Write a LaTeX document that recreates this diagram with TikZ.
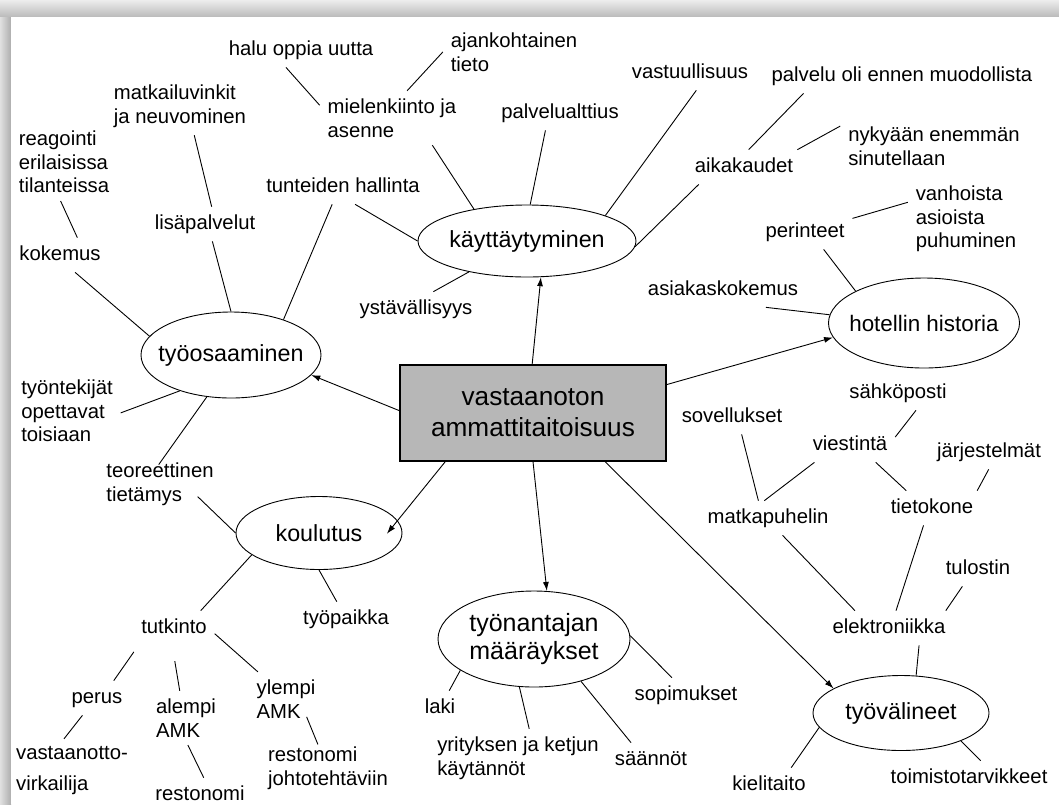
\documentclass[tikz,border=0pt]{standalone}
\usepackage{fontspec}
\setmainfont{Liberation Sans}
\usetikzlibrary{shapes.geometric,arrows.meta}
\definecolor{boxgray}{RGB}{183,183,183}
\begin{document}
\begin{tikzpicture}[x=1pt, y=-1pt, >={Latex[length=9pt,width=6pt]}, line width=0.9pt,
      lbl/.style={font=\fontsize{20.3}{23.5}\selectfont, inner sep=0pt, outer sep=8pt, text height=14.5pt, text depth=4.2pt},
      blk/.style={font=\fontsize{20.3}{23.5}\selectfont, align=left, inner sep=0pt, outer sep=8pt},
      ell/.style={draw, ellipse, inner sep=-30pt, align=center, font=\fontsize{23.3}{27}\selectfont}]
    \useasboundingbox (0,0) rectangle (1059,804);
    \fill[black!10] (0,0) rectangle (1059,804);
    \shade[top color=black!7, bottom color=black!27] (0,0) rectangle (1059,17);
    \shade[left color=black!12, right color=black!32] (0,17) rectangle (11,804);
    \fill[white] (11,17) rectangle (1059,804);
    \node[draw, fill=boxgray, line width=1.2pt, minimum width=266pt, minimum height=96pt, align=center, font=\fontsize{26.2}{31}\selectfont] (amm) at (533,413) {vastaanoton\\ammattitaitoisuus};
    \node[ell, minimum width=218pt, minimum height=72pt] (kay) at (527,241) {käyttäytyminen};
    \node[ell, minimum width=180pt, minimum height=86pt] (tyo) at (231,355) {työosaaminen};
    \node[ell, minimum width=191pt, minimum height=90pt, font=\fontsize{22.4}{27}\selectfont] (hot) at (924,323) {hotellin historia};
    \node[ell, minimum width=166pt, minimum height=73pt] (kou) at (319,533) {koulutus};
    \node[ell, minimum width=192pt, minimum height=96pt, font=\fontsize{25}{28}\selectfont] (tna) at (534,639) {työnantajan\\määräykset};
    \node[ell, minimum width=176pt, minimum height=75pt] (tyv) at (901,713) {työvälineet};
    \node[lbl] (halu) at (301,50) {halu oppia uutta};
    \node[blk] (ajan) at (514,52) {ajankohtainen\\tieto};
    \node[blk] (miel) at (392,118) {mielenkiinto ja\\asenne};
    \node[blk] (matk) at (180,106) {matkailuvinkit\\ja neuvominen};
    \node[blk] (reag) at (64,162) {reagointi\\erilaisissa\\tilanteissa};
    \node[lbl] (koke) at (60,255) {kokemus};
    \node[lbl] (lisa) at (205,224) {lisäpalvelut};
    \node[lbl] (tunt) at (343,187) {tunteiden hallinta};
    \node[lbl] (palv) at (560,113) {palvelualttius};
    \node[lbl] (vast) at (690,73) {vastuullisuus};
    \node[lbl] (palo) at (902,76) {palvelu oli ennen muodollista};
    \node[lbl] (aika) at (744,167) {aikakaudet};
    \node[blk] (nyky) at (934,146) {nykyään enemmän\\sinutellaan};
    \node[lbl] (pari) at (805,232) {perinteet};
    \node[blk] (vanh) at (966,219) {vanhoista\\asioista\\puhuminen};
    \node[lbl] (asia) at (723,290) {asiakaskokemus};
    \node[lbl] (ysta) at (416,309) {ystävällisyys};
    \node[blk] (tyon) at (67,411) {työntekijät\\opettavat\\toisiaan};
    \node[blk] (teor) at (160,484) {teoreettinen\\tietämys};
    \node[lbl] (tutk) at (174,628) {tutkinto};
    \node[lbl] (tyop) at (346,619) {työpaikka};
    \node[lbl] (peru) at (97,698) {perus};
    \node[blk, font=\fontsize{20.3}{31}\selectfont] (vaot) at (72,771) {vastaanotto-\\virkailija};
    \node[blk] (alem) at (186,718) {alempi\\AMK};
    \node[lbl] (rest) at (200,795) {restonomi};
    \node[blk] (ylem) at (286,699) {ylempi\\AMK};
    \node[blk] (rejo) at (328,768) {restonomi\\johtotehtäviin};
    \node[lbl] (laki) at (440,708) {laki};
    \node[blk] (yrit) at (518,758) {yrityksen ja ketjun\\käytännöt};
    \node[lbl] (sopi) at (686,695) {sopimukset};
    \node[lbl] (saan) at (651,760) {säännöt};
    \node[lbl] (sove) at (732,417) {sovellukset};
    \node[lbl] (sahk) at (898,393) {sähköposti};
    \node[lbl] (vies) at (850,445) {viestintä};
    \node[lbl] (jarj) at (989,452) {järjestelmät};
    \node[lbl] (matp) at (768,518) {matkapuhelin};
    \node[lbl] (tiet) at (932,508) {tietokone};
    \node[lbl] (tulo) at (978,569) {tulostin};
    \node[lbl] (elek) at (889,628) {elektroniikka};
    \node[lbl] (kiel) at (769,785) {kielitaito};
    \node[lbl] (toim) at (969,778) {toimistotarvikkeet};
    \draw[->] (amm.179) -- (tyo.-14);
    \draw[->] (amm.91) -- (kay.-69);
    \draw[->] (amm.12) -- (hot.-171);
    \draw[->, shorten >=-17pt] (amm.-151) -- (kou.9);
    \draw[->] (amm.-90) -- (tna.75);
    \draw[->] (amm.-34) -- (tyv.160);
    \draw (ajan.180) -- (miel.61);
    \draw (halu.-131) -- (miel.170);
    \draw (miel.-34) -- (kay.149);
    \draw (tunt.-55) -- (kay.180);
    \draw (palv.-130) -- (kay.85);
    \draw (vast.-70) -- (kay.18);
    \draw (aika.-159) -- (kay.-3);
    \draw (ysta.45) -- (kay.-152);
    \draw (palo.-170) -- (aika.75);
    \draw (nyky.168) -- (aika.18);
    \draw (vanh.164) -- (pari.16);
    \draw (pari.-43) -- (hot.155);
    \draw (asia.-22) -- (hot.175);
    \draw (reag.-95) -- (koke.45);
    \draw (koke.-49) -- (tyo.167);
    \draw (matk.-64) -- (lisa.69);
    \draw (lisa.-67) -- (tyo.90);
    \draw (tunt.-122) -- (tyo.34);
    \draw (tyon.-2) -- (tyo.-145);
    \draw[shorten <=-12pt] (teor.79) -- (tyo.-120);
    \draw[shorten <=-24pt] (teor.-28) -- (kou.180);
    \draw (kou.-162) -- (tutk.33);
    \draw (kou.-90) -- (tyop.118);
    \draw[shorten <=8pt] (tutk.-154) -- (peru.46);
    \draw (peru.-130) -- (vaot.104);
    \draw[shorten <=16pt] (tutk.-96) -- (alem.103);
    \draw (alem.-86) -- (rest.78);
    \draw (tutk.-8) -- (ylem.136);
    \draw[shorten <=-10pt, shorten >=-6pt] (ylem.-48) -- (rejo.113);
    \draw (tna.-157) -- (laki.62);
    \draw (tna.-107) -- (yrit.69);
    \draw (tna.2) -- (sopi.129);
    \draw (tna.-42) -- (saan.139);
    \draw (sove.-61) -- (matp.119);
    \draw (sahk.-44) -- (vies.10);
    \draw (vies.-154) -- (matp.102);
    \draw (vies.-34) -- (tiet.146);
    \draw (jarj.-91) -- (tiet.21);
    \draw (matp.-50) -- (elek.153);
    \draw (tiet.-116) -- (elek.68);
    \draw (tulo.-132) -- (elek.17);
    \draw (elek.-30) -- (tyv.68);
    \draw (tyv.-170) -- (kiel.38);
    \draw (tyv.-25) -- (toim.56);
  \end{tikzpicture}
\end{document}
